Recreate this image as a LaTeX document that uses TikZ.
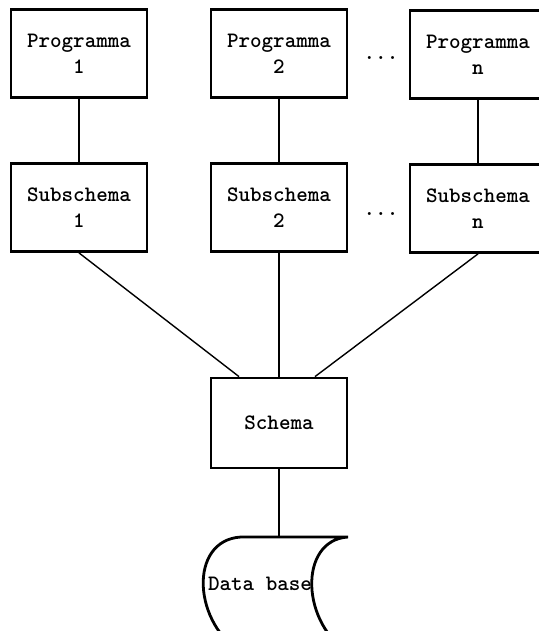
\documentclass[tikz,border=0pt]{standalone}
\usepackage{fontspec}
\usetikzlibrary{positioning}
\tikzstyle{myBox} = [draw,rectangle,line width=1.4pt,minimum width=68pt,minimum height=44pt,align=center,font=\ttfamily\bfseries\fontsize{11}{13}\selectfont]
\tikzstyle{myLine} = [line width=0.7pt]
\tikzstyle{myDots} = [anchor=base,inner sep=0pt,font=\ttfamily\bfseries\fontsize{11}{13}\selectfont]

\begin{document}
\begin{tikzpicture}[x=0.5pt,y=-0.5pt]
	\clip (0,0) rectangle (539,631);
	% programs
	\node[myBox] (p1) at (79,53.5) {Programma\\1};
	\node[myBox] (p2) at (279,53.5) {Programma\\2};
	\node[myBox] (pn) at (478,54.5) {Programma\\n};
	\node[myDots] (d1) at (381,60) {...};
	% subschemas
	\node[myBox,below of=p1,node distance=77pt] (s1) {Subschema\\1};
	\node[myBox,below of=p2,node distance=77pt] (s2) {Subschema\\2};
	\node[myBox,below of=pn,node distance=77pt] (sn) {Subschema\\n};
	\node[myDots] (d2) at (381,215) {...};
	% schema and data base
	\node[myBox,minimum height=45pt] (sc) at (279,423) {Schema};
	\coordinate (dbtop) at (279,537);
	\node[inner sep=0pt,font=\ttfamily\bfseries\fontsize{11}{13}\selectfont] (db) at (260,584) {Data base};
	\draw[line width=1.4pt] (241,537) -- (348,537)
		.. controls (298,540) and (300,625) .. (352,655) -- (245,655)
		.. controls (192,625) and (188,540) .. (241,537) -- cycle;
	\draw[myLine] (p1) -- (s1);
	\draw[myLine] (p2) -- (s2);
	\draw[myLine] (pn) -- (sn);
	\draw[myLine] (s1.south) -- ([xshift=-20pt]sc.north);
	\draw[myLine] (s2.south) -- (sc.north);
	\draw[myLine] (sn.south) -- ([xshift=18pt]sc.north);
	\draw[myLine] (sc.south) -- (dbtop);
\end{tikzpicture}
\end{document}
